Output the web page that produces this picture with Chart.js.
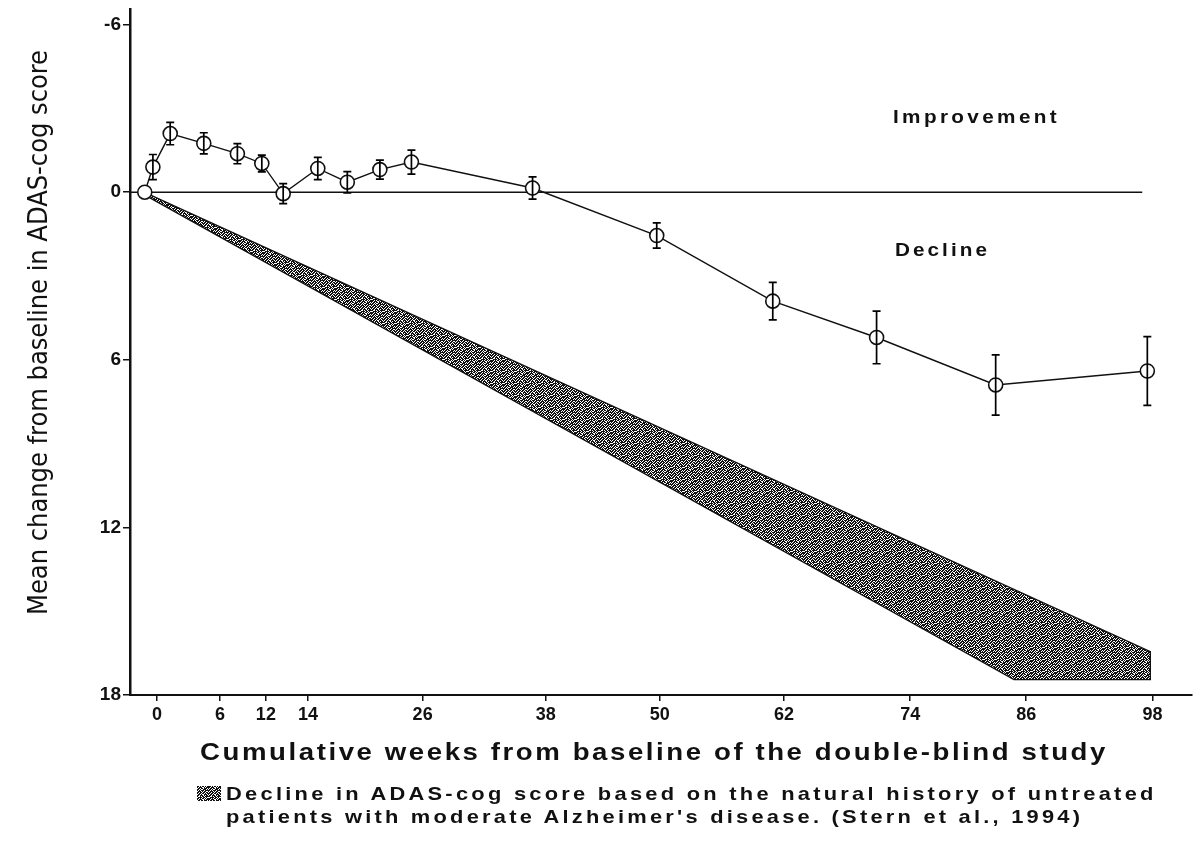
<!DOCTYPE html>
<html>
<head>
<meta charset="utf-8">
<script src="https://cdn.jsdelivr.net/npm/chart.js@4.4.1/dist/chart.umd.min.js"></script>
<style>
html, body { margin: 0; padding: 0; background: #fff; }
#wrap { position: relative; width: 1200px; height: 851px; overflow: hidden; }
#chart { position: absolute; left: 0; top: 0; }
.txt { position: absolute; white-space: nowrap; font-family: 'Liberation Sans', Arial, sans-serif; color: #111; font-weight: bold; line-height: 1; transform-origin: 0 0; }
#ytitle { font-family: 'Liberation Sans Narrow', 'DejaVu Sans Condensed', sans-serif; font-weight: normal; font-size: 27px; }
</style>
</head>
<body>
<div id="wrap">
  <canvas id="chart" width="1200" height="851"></canvas>
  <div class="txt" id="ytitle" data-w="565" style="left:24px;top:615px">Mean change from baseline in ADAS-cog score</div>
  <div class="txt" data-w="167" data-sx="1.15" style="left:893px;top:108px;font-size:18px">Improvement</div>
  <div class="txt" data-w="95" data-sx="1.15" style="left:895px;top:241px;font-size:18px">Decline</div>
  <div class="txt" data-w="908" data-sx="1.15" style="left:200px;top:740px;font-size:24px">Cumulative weeks from baseline of the double-blind study</div>
  <canvas id="swatch" width="24" height="15" style="position:absolute;left:197px;top:786px"></canvas>
  <div class="txt" data-w="931" data-sx="1.15" style="left:226px;top:784px;font-size:19px">Decline in ADAS-cog score based on the natural history of untreated</div>
  <div class="txt" data-w="857" data-sx="1.15" style="left:226px;top:807px;font-size:19px">patients with moderate Alzheimer's disease. (Stern et al., 1994)</div>
</div>
<script>
// treated group, mean change from baseline (negative = improvement)
const weeks = [-1.2, -0.4, 1.3, 4.6, 7.9, 10.3, 12.4, 15.8, 18.7, 21.9, 25.0, 36.9, 49.1, 60.5, 70.7, 82.4, 97.3]
const meanChange = [0, -0.9, -2.1, -1.75, -1.38, -1.03, 0.05, -0.85, -0.36, -0.81, -1.08, -0.15, 1.55, 3.9, 5.2, 6.9, 6.4]
const errHalf = [0, 0.45, 0.4, 0.38, 0.36, 0.3, 0.36, 0.4, 0.38, 0.34, 0.43, 0.4, 0.45, 0.67, 0.94, 1.08, 1.23]

// natural history band (Stern et al., 1994), outline of the shaded region
const bandWeeks = [-1.0, 97.6, 97.6, 84.2, -1.0]
const bandValues = [0.04, 16.45, 17.45, 17.45, 0.14]

// zero reference line
const baselineWeeks = [-2.6, 96.8]
const baselineValues = [0, 0]

// the printed axis is hand-spaced, so tick marks sit where the original puts them
const xTickPositions = [0, 6.2, 10.7, 14.85, 26.1, 38.2, 49.4, 61.6, 74.0, 85.4, 97.8]
const xTickLabels = ['0', '6', '12', '14', '26', '38', '50', '62', '74', '86', '98']
const yTickValues = [-6, 0, 6, 12, 18]

const FONT = "'Liberation Sans', Arial, sans-serif"

// stipple texture for the band
const tileRows = [
  '110101101011',
  '101110010111',
  '011011011101',
  '110100111010',
  '101011101111',
  '011101011001',
  '110110110110',
  '101101101011',
  '011010011101',
  '110111010110',
  '100101101111',
  '011110110100'
]
function makePattern(ctx){
  const c = document.createElement('canvas')
  c.width = tileRows[0].length
  c.height = tileRows.length
  const g = c.getContext('2d')
  g.fillStyle = '#fff'
  g.fillRect(0, 0, c.width, c.height)
  g.fillStyle = '#111'
  tileRows.forEach((row, y) => {
    for(let x = 0; x < row.length; x++) if(row[x] === '1') g.fillRect(x, y, 1, 1)
  })
  return ctx.createPattern(c, 'repeat')
}

const ctx = document.getElementById('chart').getContext('2d')
const bandPattern = makePattern(ctx)

const sw = document.getElementById('swatch').getContext('2d')
sw.fillStyle = makePattern(sw)
sw.fillRect(0, 0, 24, 15)

const errorBars = {
  id: 'errorBars',
  afterDatasetsDraw(chart){
    const xs = chart.scales.x, ys = chart.scales.y
    const c = chart.ctx
    c.save()
    c.strokeStyle = '#000'
    c.lineWidth = 1.7
    weeks.forEach((w, i) => {
      if(!errHalf[i]) return
      const x = xs.getPixelForValue(w)
      const y1 = ys.getPixelForValue(meanChange[i] - errHalf[i])
      const y2 = ys.getPixelForValue(meanChange[i] + errHalf[i])
      c.beginPath()
      c.moveTo(x, y1); c.lineTo(x, y2)
      c.moveTo(x - 4, y1); c.lineTo(x + 4, y1)
      c.moveTo(x - 4, y2); c.lineTo(x + 4, y2)
      c.stroke()
    })
    c.restore()
  }
}

new Chart(ctx, {
  type: 'line',
  data: {
    datasets: [
      {
        label: 'Natural history decline',
        data: bandWeeks.map((w, i) => ({x: w, y: bandValues[i]})),
        fill: 'shape',
        backgroundColor: bandPattern,
        borderColor: '#111',
        borderWidth: 1.3,
        pointRadius: 0,
        tension: 0,
        order: 3
      },
      {
        label: 'Baseline',
        data: baselineWeeks.map((w, i) => ({x: w, y: baselineValues[i]})),
        borderColor: '#111',
        borderWidth: 1.5,
        pointRadius: 0,
        fill: false,
        order: 2
      },
      {
        label: 'Mean change',
        data: weeks.map((w, i) => ({x: w, y: meanChange[i]})),
        borderColor: '#111',
        borderWidth: 1.4,
        pointRadius: 7,
        pointBorderWidth: 1.6,
        pointBackgroundColor: '#fff',
        pointBorderColor: '#111',
        fill: false,
        tension: 0,
        order: 1
      }
    ]
  },
  options: {
    responsive: false,
    animation: false,
    events: [],
    layout: {padding: {top: 9, left: 0, right: 0, bottom: 0}},
    plugins: {legend: {display: false}, tooltip: {enabled: false}},
    scales: {
      x: {
        type: 'linear',
        min: -2.65,
        max: 101.63,
        afterBuildTicks: s => { s.ticks = xTickPositions.map(v => ({value: v})) },
        afterFit: s => { s.height = 156; s.paddingLeft = 0; s.paddingRight = 0 },
        grid: {drawOnChartArea: false, tickLength: 6, color: '#111', lineWidth: 1.5},
        border: {color: '#111', width: 2},
        ticks: {
          font: {family: FONT, size: 18, weight: 'bold'}, color: '#111', padding: 3, maxRotation: 0, autoSkip: false,
          callback: (v, i) => xTickLabels[i]
        }
      },
      y: {
        type: 'linear',
        reverse: true,
        min: -6.56,
        max: 18,
        afterBuildTicks: s => { s.ticks = yTickValues.map(v => ({value: v})) },
        afterFit: s => { s.width = 130; s.paddingTop = 0; s.paddingBottom = 0 },
        grid: {drawOnChartArea: false, tickLength: 7, color: '#111', lineWidth: 1.5},
        border: {color: '#111', width: 2.5},
        ticks: {font: {family: FONT, size: 19, weight: 'bold'}, color: '#111', padding: 2}
      }
    }
  },
  plugins: [errorBars]
})

// stretch each text line to the width it has in the reference
document.querySelectorAll('.txt[data-w]').forEach(el => {
  const target = +el.dataset.w
  const sx = +(el.dataset.sx || 1)
  const vertical = el.id === 'ytitle'
  el.style.letterSpacing = '0px'
  const len = el.getBoundingClientRect().width
  const n = el.textContent.length
  el.style.letterSpacing = ((target / sx - len) / n).toFixed(2) + 'px'
  el.style.transform = vertical ? 'rotate(-90deg)' : 'scaleX(' + sx + ')'
})
</script>
</body>
</html>
